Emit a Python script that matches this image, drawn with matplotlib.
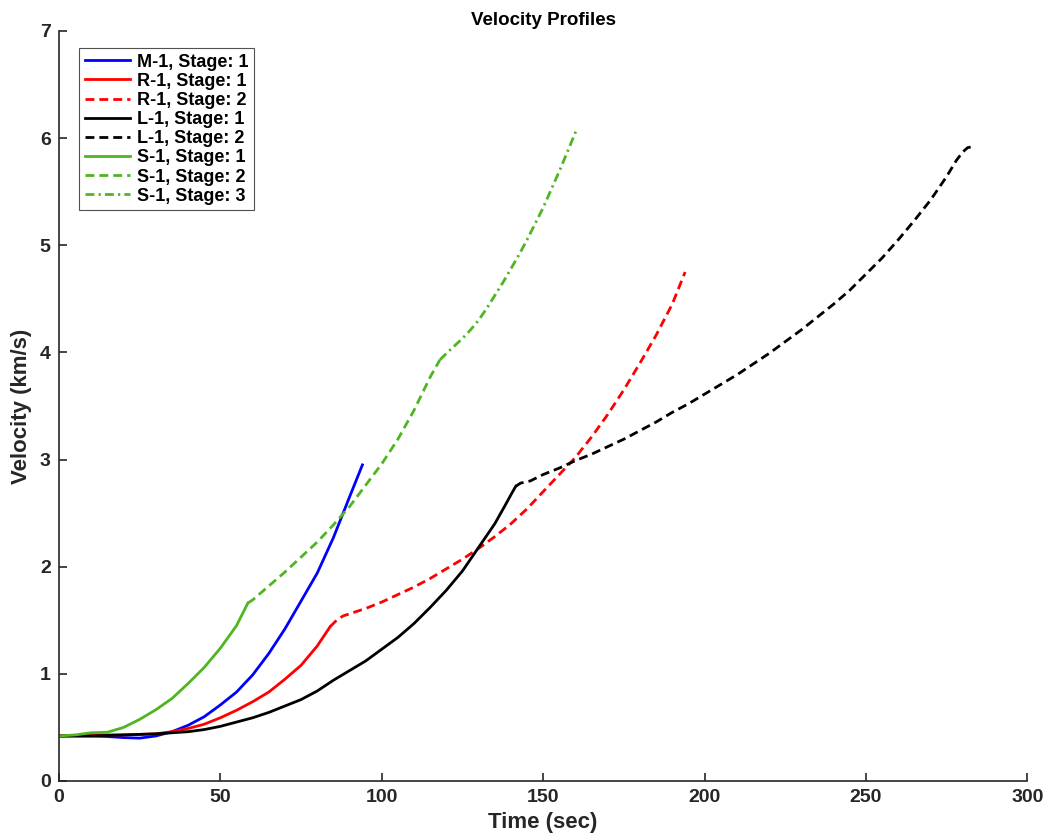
import numpy as np
import matplotlib
matplotlib.use('Agg')
from matplotlib import pyplot as plt

plt.rcParams['font.family'] = ['Liberation Sans', 'DejaVu Sans']
plt.rcParams['font.weight'] = 'bold'

# M-1
m1_t = [0, 5, 10, 15, 20, 25, 30, 35, 40, 45, 50, 55, 60, 65, 70, 75, 80, 85, 90, 94]
m1_v = [0.42, 0.42, 0.42, 0.415, 0.405, 0.40, 0.42, 0.46, 0.52, 0.60, 0.71, 0.83, 0.99, 1.19, 1.42, 1.68, 1.94, 2.27, 2.65, 2.95]

# R-1
r1_t1 = [0, 10, 20, 30, 35, 40, 45, 50, 55, 60, 65, 70, 75, 80, 84]
r1_v1 = [0.42, 0.43, 0.43, 0.44, 0.46, 0.49, 0.53, 0.59, 0.66, 0.74, 0.83, 0.95, 1.08, 1.26, 1.44]
r1_t2 = [84, 86, 88, 90, 95, 100, 105, 110, 115, 120, 125, 130, 135, 140, 145, 150,
         155, 160, 165, 170, 175, 180, 185, 190, 194]
r1_v2 = [1.44, 1.50, 1.54, 1.56, 1.61, 1.67, 1.74, 1.81, 1.89, 1.98, 2.07, 2.17, 2.28, 2.40, 2.54, 2.70,
         2.86, 3.02, 3.21, 3.42, 3.65, 3.90, 4.16, 4.45, 4.75]

# L-1
l1_t1 = [0, 10, 20, 30, 35, 40, 45, 50, 55, 60, 65, 70, 75, 80, 85, 90, 95, 100,
         105, 110, 115, 120, 125, 130, 135, 138, 140, 141.5]
l1_v1 = [0.42, 0.42, 0.43, 0.44, 0.45, 0.46, 0.48, 0.51, 0.55, 0.59, 0.64, 0.70, 0.76, 0.84, 0.94, 1.03, 1.12, 1.23,
         1.34, 1.47, 1.62, 1.78, 1.96, 2.18, 2.40, 2.56, 2.67, 2.75]
l1_t2 = [141.5, 143, 146, 150, 155, 160, 165, 170, 175, 180, 185, 190, 195, 200, 205, 210, 215, 220,
         225, 230, 235, 240, 245, 250, 255, 260, 265, 270, 275, 278, 280, 281.5, 283]
l1_v2 = [2.75, 2.78, 2.80, 2.86, 2.92, 2.99, 3.05, 3.12, 3.19, 3.27, 3.35, 3.44, 3.52, 3.61, 3.70, 3.79, 3.89, 3.99,
         4.10, 4.21, 4.33, 4.45, 4.58, 4.73, 4.88, 5.05, 5.23, 5.42, 5.64, 5.79, 5.87, 5.91, 5.92]

# S-1
s1_t1 = [0, 5, 10, 15, 20, 25, 30, 35, 40, 45, 50, 55, 58.5]
s1_v1 = [0.42, 0.43, 0.45, 0.455, 0.50, 0.575, 0.665, 0.77, 0.91, 1.06, 1.24, 1.45, 1.66]
s1_t2 = [58.5, 60, 65, 70, 75, 80, 85, 90, 95, 100, 105, 110, 115, 118]
s1_v2 = [1.66, 1.69, 1.82, 1.95, 2.09, 2.23, 2.39, 2.56, 2.76, 2.96, 3.19, 3.46, 3.77, 3.93]
s1_t3 = [118, 120, 122.5, 125, 127.5, 130, 132.5, 135, 137.5, 140, 142.5, 145, 147.5, 150,
         152.5, 155, 157.5, 160.5]
s1_v3 = [3.93, 3.99, 4.06, 4.13, 4.21, 4.30, 4.41, 4.53, 4.65, 4.78, 4.91, 5.05, 5.20, 5.35,
         5.52, 5.69, 5.87, 6.09]

green = '#4fb520'
dash = (3.2, 1.8)
dashdot = (3.2, 1.5, 0.8, 1.5)
dark = '#262626'

fig = plt.figure(figsize=(10.45, 8.36), dpi=100)
ax = fig.add_axes([0.0565, 0.0658, 0.9265, 0.8972])

lw = 2
ax.plot(m1_t, m1_v, color='blue', lw=lw, label='M-1, Stage: 1')
ax.plot(r1_t1, r1_v1, color='red', lw=lw, label='R-1, Stage: 1')
ax.plot(r1_t2, r1_v2, color='red', lw=lw, dashes=dash, label='R-1, Stage: 2')
ax.plot(l1_t1, l1_v1, color='black', lw=lw, label='L-1, Stage: 1')
ax.plot(l1_t2, l1_v2, color='black', lw=lw, dashes=dash, label='L-1, Stage: 2')
ax.plot(s1_t1, s1_v1, color=green, lw=lw, label='S-1, Stage: 1')
ax.plot(s1_t2, s1_v2, color=green, lw=lw, dashes=dash, label='S-1, Stage: 2')
ax.plot(s1_t3, s1_v3, color=green, lw=lw, dashes=dashdot, label='S-1, Stage: 3')

ax.set_xlim(0, 300)
ax.set_ylim(0, 7)
ax.set_xticks(np.arange(0, 301, 50))
ax.set_yticks(np.arange(0, 8, 1))
ax.spines['top'].set_visible(False)
ax.spines['right'].set_visible(False)
for s in ['left', 'bottom']:
    ax.spines[s].set_color(dark)
    ax.spines[s].set_linewidth(1.2)
ax.tick_params(direction='in', length=6, width=1.2, colors=dark, labelsize=14, pad=6)
for lab in ax.get_xticklabels() + ax.get_yticklabels():
    lab.set_fontweight('bold')

ax.set_xlabel('Time (sec)', fontsize=16, fontweight='bold', color=dark, labelpad=4)
ax.set_ylabel('Velocity (km/s)', fontsize=16, fontweight='bold', color=dark, labelpad=6)
ax.set_title('Velocity Profiles', fontsize=13.5, fontweight='bold', pad=4)

leg = ax.legend(loc='upper left', bbox_to_anchor=(0.0207, 0.977),
                prop={'weight': 'bold', 'size': 13}, frameon=True, fancybox=False,
                handlelength=2.5, borderpad=0.3, labelspacing=0.12, handletextpad=0.4,
                borderaxespad=0)
leg.get_frame().set_edgecolor(dark)
leg.get_frame().set_linewidth(0.8)

fig.savefig('out.png', dpi=100)
